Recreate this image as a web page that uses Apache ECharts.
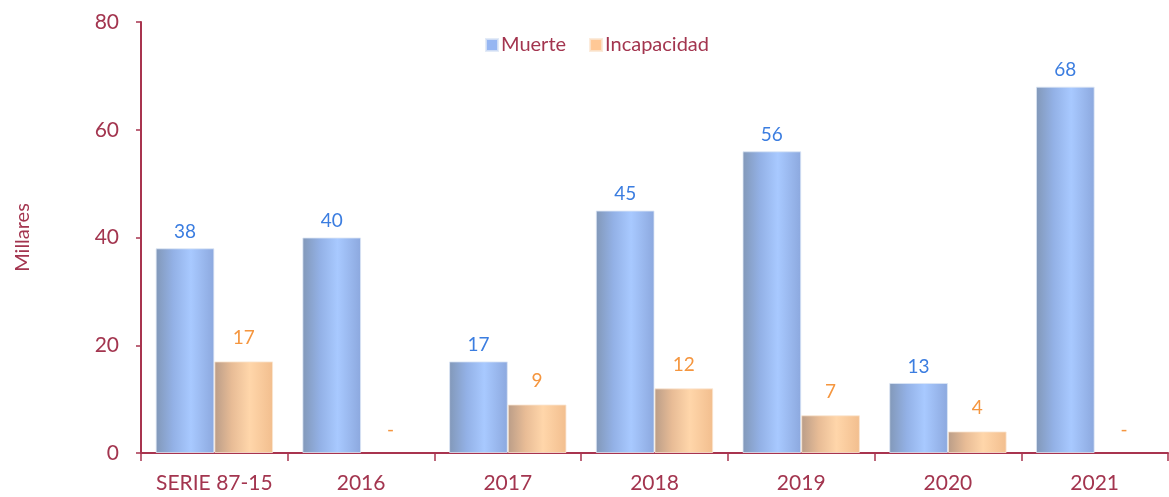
<!DOCTYPE html>
<html>
<head>
<meta charset="utf-8">
<script src="https://cdn.jsdelivr.net/npm/echarts@6/dist/echarts.min.js"></script>
<style>
  html, body { margin: 0; padding: 0; background: #fff; }
  #chart { width: 1169px; height: 497px; }
</style>
</head>
<body>
<div id="chart"></div>
<script>
// Categories and series values (thousands)
const categories = ['SERIE 87-15', '2016', '2017', '2018', '2019', '2020', '2021'];
const muerte = [38, 40, 17, 45, 56, 13, 68];
const incapacidad = [17, null, 9, 12, 7, 4, null];
const yTicks = [0, 20, 40, 60, 80];

const axisColor = '#A8344F';
const textColor = '#A3354F';
const font = 'Lato, "Open Sans", sans-serif';

function hGrad(stops) {
  return new echarts.graphic.LinearGradient(0, 0, 1, 0,
    stops.map(s => ({ offset: s[0], color: s[1] })));
}

const blueFill = hGrad([[0, '#8298B8'], [0.3, '#93B1E6'], [0.6, '#A8C9FF'], [1, '#8CA8DE']]);
const orangeFill = hGrad([[0, '#BA9D88'], [0.3, '#E8BC96'], [0.6, '#FFD6AA'], [1, '#F2BE8E']]);

// Missing values are drawn as an invisible zero-height bar carrying a dash label
const incData = incapacidad.map(v => v === null
  ? { value: 0, missing: true, itemStyle: { color: 'transparent', borderWidth: 0 } }
  : v);

const chart = echarts.init(document.getElementById('chart'));
chart.setOption({
  animation: false,
  grid: { left: 141, right: 1, top: 22, bottom: 44, containLabel: false },
  legend: {
    left: 485, top: 35, padding: 0,
    itemWidth: 12, itemHeight: 12, itemGap: 23,
    icon: 'rect',
    textStyle: { color: textColor, fontSize: 20, fontFamily: font, padding: [0, 0, 0, -2] },
    data: [
      { name: 'Muerte', itemStyle: { color: '#96B6F2' } },
      { name: 'Incapacidad', itemStyle: { color: '#FFC896' } }
    ]
  },
  xAxis: {
    type: 'category',
    data: categories,
    axisLine: { lineStyle: { color: axisColor, width: 2 } },
    axisTick: { show: true, interval: 0, length: 8, lineStyle: { color: axisColor, width: 1.5 } },
    axisLabel: { interval: 0, color: textColor, fontSize: 21, fontFamily: font, margin: 20 }
  },
  yAxis: {
    type: 'value',
    min: yTicks[0], max: yTicks[yTicks.length - 1], interval: 20,
    name: 'Millares',
    nameLocation: 'middle',
    nameGap: 108,
    nameRotate: 90,
    nameTextStyle: { color: textColor, fontSize: 20, fontFamily: font },
    axisLine: { show: true, lineStyle: { color: axisColor, width: 2 } },
    axisTick: { show: true, length: 5, lineStyle: { color: axisColor, width: 1.5 } },
    axisLabel: { color: textColor, fontSize: 21, fontFamily: font, margin: 22 },
    splitLine: { show: false }
  },
  series: [
    {
      name: 'Muerte', type: 'bar',
      data: muerte,
      barGap: '0%', barCategoryGap: '20%',
      itemStyle: { color: blueFill, borderColor: 'rgba(220,230,245,0.8)', borderWidth: 1 },
      label: { show: true, position: 'top', distance: 7, color: '#3B7DE0', fontSize: 19, fontFamily: font }
    },
    {
      name: 'Incapacidad', type: 'bar',
      data: incData,
      itemStyle: { color: orangeFill, borderColor: 'rgba(250,230,210,0.8)', borderWidth: 1 },
      label: {
        show: true, position: 'top', distance: 14, color: '#F5963F', fontSize: 19, fontFamily: font,
        formatter: p => (p.data && p.data.missing) ? '-' : p.value
      }
    }
  ]
});
</script>
</body>
</html>
